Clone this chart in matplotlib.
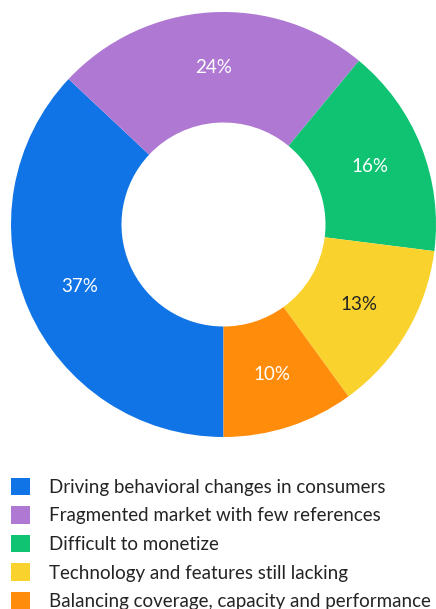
import matplotlib.pyplot as plt
from matplotlib.patches import Patch

plt.rcParams['font.family'] = ['Lato', 'DejaVu Sans']

labels = [
    "Driving behavioral changes in consumers",
    "Fragmented market with few references",
    "Difficult to monetize",
    "Technology and features still lacking",
    "Balancing coverage, capacity and performance",
]
shares = [37, 24, 16, 13, 10]
colors = ["#1174E6", "#AF78D2", "#0FC373", "#FAD22D", "#FF8C0A"]
text_colors = ["white", "white", "white", "#242424", "white"]

fig = plt.figure(figsize=(4.36, 6.09), dpi=100)
ax = fig.add_axes([11 / 436, 1 - 437 / 609, 425 / 436, 425 / 609])

wedges, texts, autotexts = ax.pie(
    shares, colors=colors, startangle=270, counterclock=False,
    radius=1, autopct="%d%%", pctdistance=0.74,
    wedgeprops=dict(width=0.52, linewidth=0),
    textprops=dict(fontsize=13.5),
)
for t, c in zip(autotexts, text_colors):
    t.set_color(c)
ax.set_xlim(-1, 1)
ax.set_ylim(-1, 1)
ax.set_aspect("equal")
ax.axis("off")

handles = [Patch(facecolor=c, edgecolor="none") for c in colors]
fig.legend(handles, labels, loc="upper left", bbox_to_anchor=(5 / 436, 1 - 472 / 609),
           frameon=False, fontsize=13.5, handlelength=1.05, handleheight=1.05,
           handletextpad=1.02, labelspacing=0.56, borderaxespad=0, borderpad=0.3,
           labelcolor="#242424")

plt.savefig("out.png", dpi=100)
plt.close(fig)
